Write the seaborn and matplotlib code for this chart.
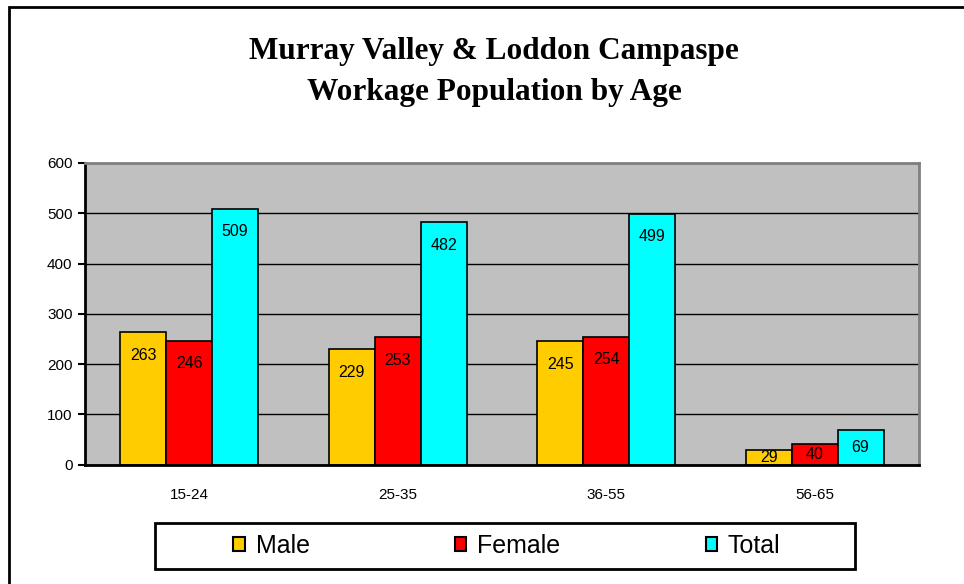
import matplotlib
matplotlib.use("Agg")
import matplotlib.pyplot as plt
from matplotlib.patches import Rectangle, Patch
import seaborn as sns
import pandas as pd

# ---- data ----
age_groups = ["15-24", "25-35", "36-55", "56-65"]
series_names = ["Male", "Female", "Total"]
male = [263, 229, 245, 29]
female = [246, 253, 254, 40]
total = [509, 482, 499, 69]
y_ticks = [0, 100, 200, 300, 400, 500, 600]
title_lines = ["Murray Valley & Loddon Campaspe", "Workage Population by Age"]

colors = {"Male": "#FFCC00", "Female": "#FF0000", "Total": "#00FFFF"}

rows = []
for name, vals in zip(series_names, [male, female, total]):
    for g, v in zip(age_groups, vals):
        rows.append({"age": g, "series": name, "value": v})
df = pd.DataFrame(rows)

sns.set_theme(style="white")
plt.rcParams["font.family"] = ["Liberation Sans", "DejaVu Sans"]
plt.rcParams["text.color"] = "black"
plt.rcParams["xtick.color"] = "black"
plt.rcParams["ytick.color"] = "black"
plt.rcParams["xtick.labelcolor"] = "black"
plt.rcParams["ytick.labelcolor"] = "black"

W, H = 964, 584
fig = plt.figure(figsize=(W / 100, H / 100), dpi=100)
ax = fig.add_axes([85 / W, 1 - 464.5 / H, (919 - 85) / W, (464.5 - 163) / H])
ax.set_facecolor("#C0C0C0")

sns.barplot(data=df, x="age", y="value", hue="series", order=age_groups,
            hue_order=series_names, palette=colors, width=0.66, saturation=1,
            edgecolor="black", linewidth=1.2, ax=ax, legend=False, errorbar=None)

ax.set_ylim(0, 600)
ax.set_xlim(-0.5, len(age_groups) - 0.5)
ax.set_yticks(y_ticks)
ax.set_yticklabels([str(t) for t in y_ticks], fontsize=11, color="black")
ax.yaxis.grid(True, color="black", linewidth=1)
ax.set_axisbelow(True)
ax.set_xlabel("")
ax.set_ylabel("")

# x tick labels at centers without marks; marks at boundaries via minor ticks
ax.set_xticks(range(len(age_groups)))
ax.set_xticklabels(age_groups, fontsize=11, color="black")
ax.tick_params(axis="x", which="major", length=0, pad=17)
ax.set_xticks([i - 0.5 for i in range(len(age_groups) + 1)], minor=True)
ax.tick_params(axis="x", which="minor", length=5, width=1.5, color="black", direction="out")
ax.tick_params(axis="y", length=5, width=1.5, color="black", direction="out", pad=4, left=True)

for side in ["left", "bottom"]:
    ax.spines[side].set_color("black")
    ax.spines[side].set_linewidth(2)
for side in ["top", "right"]:
    ax.spines[side].set_color("#808080")
    ax.spines[side].set_linewidth(2)

# data labels inside bar tops
for cont in ax.containers:
    for bar in cont:
        v = bar.get_height()
        y = max(v - 46, v / 2)
        ax.text(bar.get_x() + bar.get_width() / 2, y, f"{int(round(v))}",
                ha="center", va="center", fontsize=11.5, color="black", clip_on=False)

# title
fig.text(494 / W, 1 - 59 / H, title_lines[0], ha="center", va="baseline", color="black",
         fontsize=22.5, fontweight="bold", family=["Liberation Serif", "DejaVu Serif"])
fig.text(494 / W, 1 - 100 / H, title_lines[1], ha="center", va="baseline", color="black",
         fontsize=22.5, fontweight="bold", family=["Liberation Serif", "DejaVu Serif"])

# legend box
fig.patches.append(Rectangle((155 / W, 1 - 569 / H), (855 - 155) / W, (569 - 523) / H,
                             transform=fig.transFigure, facecolor="white",
                             edgecolor="black", linewidth=2, zorder=1))
handles = [Patch(facecolor=colors[n], edgecolor="black", linewidth=1.5) for n in series_names]
leg = fig.legend(handles, series_names, loc="center", bbox_to_anchor=(507 / W, 1 - 546 / H),
                 ncol=3, frameon=False, fontsize=18, handlelength=0.45, handleheight=0.45,
                 handletextpad=0.45, columnspacing=5.8, labelcolor="black")
leg.set_zorder(2)

# outer chart border (top and left visible)
fig.patches.append(Rectangle((8.5 / W, -0.1), 1.2, (1 - 6.5 / H) + 0.1,
                             transform=fig.transFigure, fill=False,
                             edgecolor="black", linewidth=2))

fig.savefig("out.png", dpi=100)
